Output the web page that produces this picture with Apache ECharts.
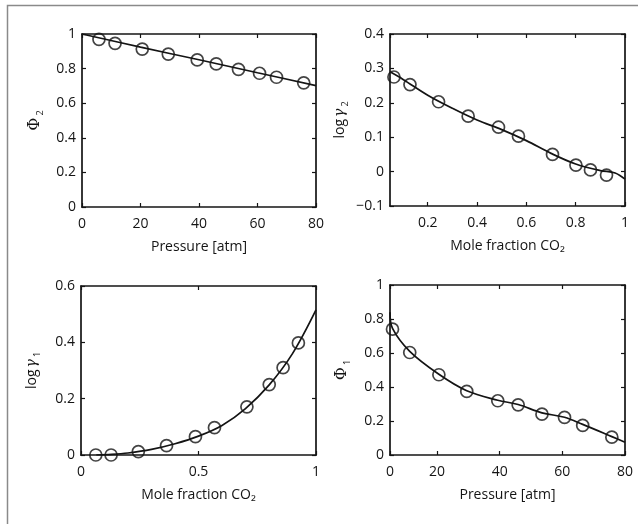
<!DOCTYPE html>
<html>
<head>
<meta charset="utf-8">
<script src="https://cdn.jsdelivr.net/npm/echarts@6/dist/echarts.min.js"></script>
<style>
html,body{margin:0;padding:0;background:#fff;}
#chart{width:638px;height:524px;}
</style>
</head>
<body>
<div id="chart"></div>
<script>
// ---- data ----
const pressure = [5.8, 11.3, 20.6, 29.5, 39.4, 45.9, 53.5, 60.7, 66.5, 75.8];
const phi2 = [0.969, 0.946, 0.913, 0.884, 0.850, 0.827, 0.796, 0.773, 0.750, 0.718];
const phi2FitP = [0, 20, 40, 60, 80];
const phi2Fit = [1.0, 0.924, 0.851, 0.776, 0.702];

const moleFrac = [0.063, 0.128, 0.244, 0.364, 0.487, 0.568, 0.706, 0.801, 0.860, 0.925];
const logG2 = [0.275, 0.253, 0.203, 0.161, 0.129, 0.103, 0.050, 0.019, 0.005, -0.010];
const logG2FitX = [0.047, 0.1, 0.2, 0.3, 0.4, 0.5, 0.6, 0.7, 0.8, 0.9, 0.96, 1.0];
const logG2Fit = [0.290, 0.268, 0.222, 0.184, 0.150, 0.122, 0.090, 0.053, 0.022, 0.003, -0.004, -0.022];

const logG1 = [0.0, 0.0, 0.012, 0.033, 0.065, 0.097, 0.171, 0.250, 0.310, 0.398];
const logG1FitX = [0.065, 0.13, 0.2, 0.3, 0.4, 0.5, 0.6, 0.7, 0.8, 0.9, 1.0];
const logG1Fit = [0.0, 0.002, 0.007, 0.020, 0.040, 0.067, 0.105, 0.165, 0.248, 0.360, 0.515];

const phi1 = [0.740, 0.603, 0.472, 0.374, 0.319, 0.295, 0.240, 0.221, 0.174, 0.105];
const phi1FitP = [5, 5.8, 11.3, 20.6, 29.5, 39.4, 45.9, 53.5, 60.7, 66.5, 75.8, 80];
const phi1Fit = [0.84, 0.745, 0.61, 0.475, 0.378, 0.322, 0.297, 0.248, 0.222, 0.18, 0.108, 0.075];

// tick labels as printed in the reference
const pressureTicks = ['0', '20', '40', '60', '80'];

// ---- styles ----
const INK = '#141414';
const FONT = 'Open Sans';
const pairs = (xs, ys) => xs.map((x, i) => [x, ys[i]]);

const grids = [
  {left: 82, top: 34, width: 234, height: 173},
  {left: 390, top: 34, width: 235, height: 172},
  {left: 81, top: 286, width: 235, height: 169},
  {left: 390, top: 285, width: 235, height: 170}
];

const fmt = v => {
  const r = Math.round(v * 1000) / 1000;
  return String(r).replace('-', '−');
};
// the lower-right pressure axis starts at its left edge, printed as the first tick label
const fmtP4 = v => (v < 10 ? pressureTicks[0] : fmt(v));

const xSpecs = [
  {min: 0, max: 80, interval: 20, name: 'Pressure [atm]', f: fmt},
  {min: 0.047, max: 1, name: 'Mole fraction CO₂', hideMin: true, f: fmt},
  {min: 0, max: 1, interval: 0.5, name: 'Mole fraction CO₂', f: fmt},
  {min: 5, max: 80, splitNumber: 4, name: 'Pressure [atm]', f: fmtP4}
];
const ySpecs = [
  {min: 0, max: 1, interval: 0.2, name: '{p|Φ}{s|2}', gap: 37},
  {min: -0.1, max: 0.4, interval: 0.1, name: '{l|log}{g|γ}{s|2}', gap: 40},
  {min: 0, max: 0.6, interval: 0.2, name: '{l|log}{g|γ}{s|1}', gap: 39},
  {min: 0, max: 1, interval: 0.2, name: '{p|Φ}{s|1}', gap: 38}
];

const richName = {
  p: {fontFamily: 'DejaVu Serif', fontSize: 16, color: INK, lineHeight: 20, verticalAlign: 'middle'},
  l: {fontFamily: FONT, fontSize: 14, color: INK, lineHeight: 20, verticalAlign: 'middle'},
  g: {fontFamily: 'DejaVu Serif', fontStyle: 'italic', fontSize: 14, color: INK, lineHeight: 20, verticalAlign: 'middle', padding: [0, 0, 0, 2]},
  s: {fontFamily: FONT, fontSize: 9, color: INK, lineHeight: 20, verticalAlign: 'bottom', padding: [0, 0, 0, 2]}
};

const xAxis = [], yAxis = [];
xSpecs.forEach((s, i) => {
  const base = {
    type: 'value', gridIndex: i, min: s.min, max: s.max,
    splitLine: {show: false},
    axisLine: {show: true, onZero: false, lineStyle: {color: INK, width: 1.7}},
    axisTick: {show: true, inside: true, length: 4, lineStyle: {color: INK, width: 1.2}}
  };
  if (s.interval) base.interval = s.interval;
  if (s.splitNumber) base.splitNumber = s.splitNumber;
  xAxis.push(Object.assign({}, base, {
    position: 'bottom',
    name: s.name, nameLocation: 'middle', nameGap: 33,
    nameTextStyle: {fontFamily: FONT, fontSize: 14, color: INK},
    axisLabel: {show: true, margin: 10, fontFamily: FONT, fontSize: 14, color: INK, formatter: s.f, showMinLabel: !s.hideMin}
  }));
  xAxis.push(Object.assign({}, base, {position: 'top', axisLabel: {show: false}}));
});
ySpecs.forEach((s, i) => {
  const base = {
    type: 'value', gridIndex: i, min: s.min, max: s.max, interval: s.interval,
    splitLine: {show: false},
    axisLine: {show: true, onZero: false, lineStyle: {color: INK, width: 1.7}},
    axisTick: {show: true, inside: true, length: 4, lineStyle: {color: INK, width: 1.2}}
  };
  yAxis.push(Object.assign({}, base, {
    position: 'left',
    name: s.name, nameLocation: 'middle', nameGap: s.gap, nameRotate: 90,
    nameTextStyle: {rich: richName},
    axisLabel: {show: true, margin: 6, fontFamily: FONT, fontSize: 14, color: INK, formatter: fmt}
  }));
  yAxis.push(Object.assign({}, base, {position: 'right', axisLabel: {show: false}}));
});

const lineSeries = (i, data) => ({
  type: 'line', xAxisIndex: 2 * i, yAxisIndex: 2 * i, data: data,
  smooth: 0.35, showSymbol: false, symbol: 'none',
  lineStyle: {color: INK, width: 1.7}, z: 3, silent: true, animation: false
});
const markerSeries = (i, data) => ({
  type: 'scatter', xAxisIndex: 2 * i, yAxisIndex: 2 * i, data: data,
  symbol: 'circle', symbolSize: 12,
  itemStyle: {color: 'rgba(0,0,0,0)', borderColor: INK, borderWidth: 1.7},
  z: 4, silent: true, animation: false
});

const option = {
  animation: false,
  backgroundColor: '#ffffff',
  grid: grids,
  xAxis: xAxis,
  yAxis: yAxis,
  series: [
    lineSeries(0, pairs(phi2FitP, phi2Fit)),
    markerSeries(0, pairs(pressure, phi2)),
    lineSeries(1, pairs(logG2FitX, logG2Fit)),
    markerSeries(1, pairs(moleFrac, logG2)),
    lineSeries(2, pairs(logG1FitX, logG1Fit)),
    markerSeries(2, pairs(moleFrac, logG1)),
    lineSeries(3, pairs(phi1FitP, phi1Fit)),
    markerSeries(3, pairs(pressure, phi1))
  ],
  graphic: [
    {type: 'polyline', shape: {points: [[7.5, 524], [7.5, 5.5], [638, 5.5]]},
     style: {stroke: '#8a8a8a', lineWidth: 1.5, fill: null}, silent: true}
  ]
};

const chart = echarts.init(document.getElementById('chart'), null, {renderer: 'canvas'});
chart.setOption(option);
</script>
</body>
</html>
